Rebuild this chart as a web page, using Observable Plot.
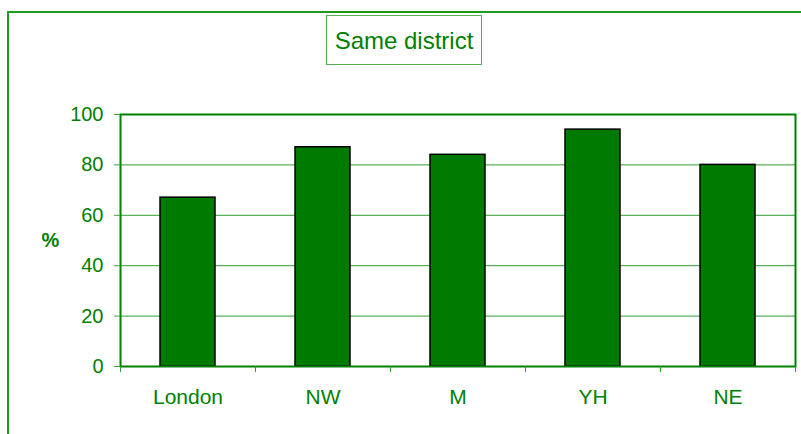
<!DOCTYPE html>
<html>
<head>
<meta charset="utf-8">
<script src="https://cdn.jsdelivr.net/npm/d3@7"></script>
<script src="https://cdn.jsdelivr.net/npm/@observablehq/plot@0.6"></script>
<style>
  html, body { margin: 0; padding: 0; background: #fff; }
  #wrap { position: relative; width: 801px; height: 434px; overflow: hidden; font-family: "Liberation Sans", Arial, sans-serif; }
  #outer { position: absolute; left: 7px; top: 11px; width: 1000px; height: 1000px; border-left: 2px solid #1e9a1e; border-top: 2px solid #1e9a1e; box-sizing: border-box; }
  #title { position: absolute; left: 326px; top: 15px; width: 156px; height: 50px; box-sizing: border-box; border: 1px solid #55b055; color: #008000; font-size: 24px; line-height: 50px; text-align: center; white-space: nowrap; }
  #chart { position: absolute; left: 0; top: 0; }
</style>
</head>
<body>
<div id="wrap">
  <div id="outer"></div>
  <div id="chart"></div>
  <div id="title">Same district</div>
</div>
<script>
const categories = ["London", "NW", "M", "YH", "NE"];
const values = [67, 87, 84, 94, 80];
const yTicks = [0, 20, 40, 60, 80, 100];
const yLabel = "%";

const data = categories.map((c, i) => ({ region: c, value: values[i] }));

const W = 801, H = 434, mL = 120, mR = 6, mT = 114, mB = 68;
const step = (W - mL - mR) / categories.length;
const green = "#008000";

const chart = Plot.plot({
  width: W,
  height: H,
  marginLeft: mL,
  marginRight: mR,
  marginTop: mT,
  marginBottom: mB,
  style: { fontFamily: "'Liberation Sans', Arial, sans-serif", background: "transparent", overflow: "visible" },
  x: { domain: categories, paddingInner: 0.59, paddingOuter: 0.295, label: null },
  y: { domain: [0, 100], label: null },
  marks: [
    Plot.gridY(yTicks.filter(t => t > 0 && t < 100), { stroke: "#2f9e2f", strokeOpacity: 1, strokeWidth: 1 }),
    Plot.barY(data, { x: "region", y: "value", fill: "#007a00", stroke: "#000", strokeWidth: 1.5 }),
    Plot.frame({ stroke: green, strokeWidth: 2 }),
    Plot.axisY(yTicks, { tickSize: 6, tickPadding: 11, fontSize: 20, fill: green, stroke: "#3ea33e", label: null }),
    Plot.axisX({ tickSize: 0, tickPadding: 23, fontSize: 21, fill: green, label: null }),
    Plot.ruleX(categories, { x: d => d, y1: 0, y2: 0, dx: -step / 2, insetBottom: -6, stroke: "#2e9a2e", strokeWidth: 1 }),
    Plot.ruleX(categories.slice(-1), { x: d => d, y1: 0, y2: 0, dx: step / 2, insetBottom: -6, stroke: "#2e9a2e", strokeWidth: 1 }),
    Plot.text([yLabel], { text: d => d, frameAnchor: "left", dx: -70, fontSize: 20, fontWeight: "bold", fill: green, textAnchor: "middle" })
  ]
});
document.getElementById("chart").appendChild(chart);
</script>
</body>
</html>
